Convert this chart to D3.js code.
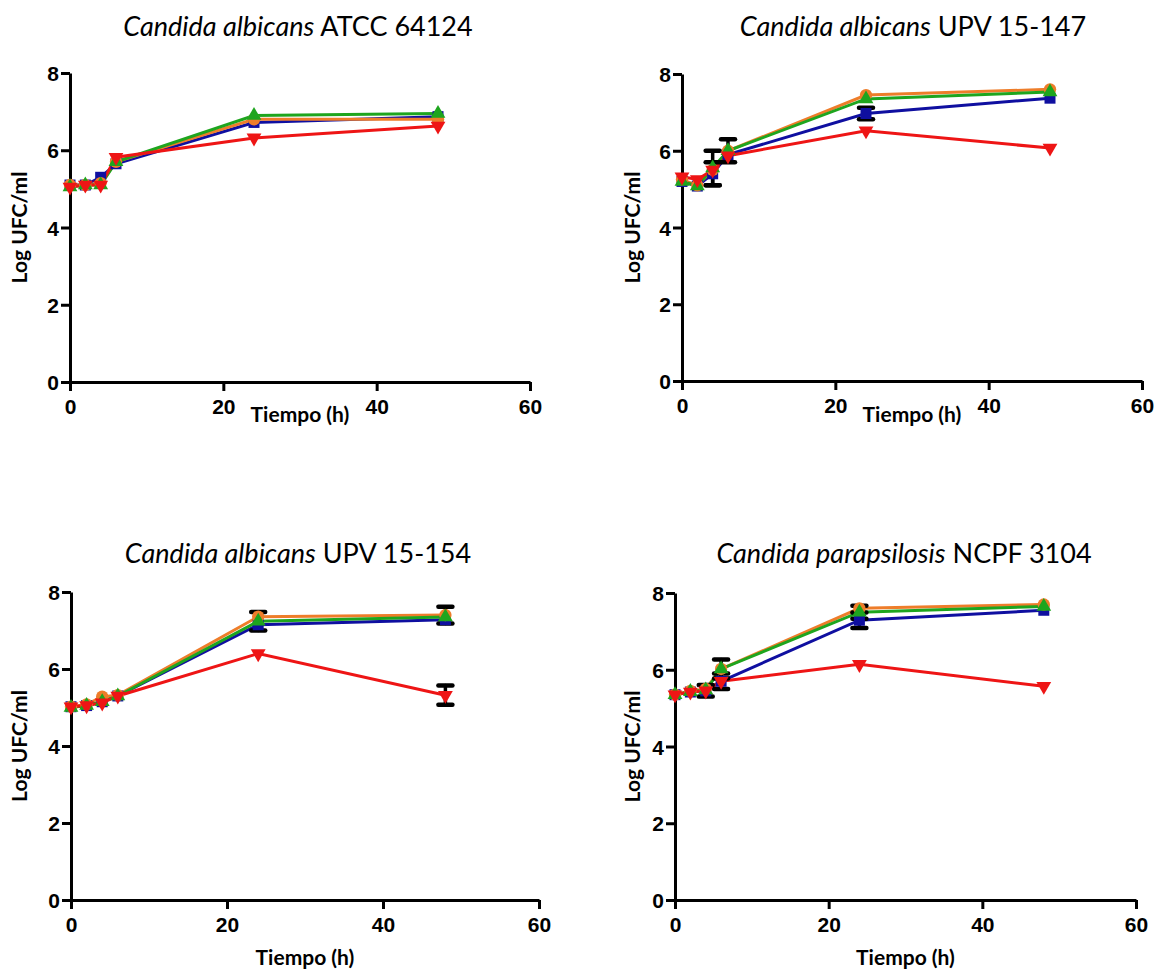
<!DOCTYPE html>
<html>
<head>
<meta charset="utf-8">
<script src="https://cdn.jsdelivr.net/npm/d3@7"></script>
<style>
  body { margin: 0; background: #fff; }
  .title { font-family: Lato, "Open Sans", sans-serif; font-size: 27px; fill: #000; }
  .axis-label { font-family: Lato, "Open Sans", sans-serif; font-weight: bold; font-size: 21px; fill: #000; }
</style>
</head>
<body>
<svg id="chart" width="1161" height="974"></svg>
<script>
// sampling times (h)
const times = [0, 2, 4, 6, 24, 48];
const xTicks = [0, 20, 40, 60];
const yTicks = [0, 2, 4, 6, 8];

const seriesKeys = ["blue", "orange", "green", "red"];
const seriesColors = ["#0f0fa0", "#ee7d2a", "#1ea51e", "#ee1515"];
const seriesShapes = ["square", "circle", "triangleUp", "triangleDown"];

const titleSpecies = ["Candida albicans", "Candida albicans", "Candida albicans", "Candida parapsilosis"];
const titleStrain = ["ATCC 64124", "UPV 15-147", "UPV 15-154", "NCPF 3104"];

// Log UFC/ml, one row per series (blue, orange, green, red)
const atcc64124 = [
  [5.1, 5.1, 5.3, 5.65, 6.72, 6.87],
  [5.1, 5.1, 5.15, 5.7, 6.8, 6.8],
  [5.05, 5.1, 5.1, 5.7, 6.9, 6.95],
  [5.05, 5.1, 5.1, 5.82, 6.32, 6.63]
];
const atcc64124Err = [
  [0, 0, 0, 0, 0, 0],
  [0, 0, 0, 0, 0, 0],
  [0, 0, 0, 0, 0, 0],
  [0, 0, 0, 0, 0, 0]
];

const upv15147 = [
  [5.2, 5.08, 5.4, 5.9, 6.97, 7.37],
  [5.25, 5.1, 5.5, 6.0, 7.45, 7.6],
  [5.2, 5.08, 5.55, 6.0, 7.35, 7.53],
  [5.32, 5.25, 5.5, 5.87, 6.52, 6.07]
];
const upv15147Err = [
  [0, 0, 0.3, 0, 0.15, 0],
  [0, 0, 0, 0, 0, 0],
  [0, 0, 0.45, 0.3, 0, 0],
  [0, 0, 0, 0, 0, 0]
];

const upv15154 = [
  [5.02, 5.05, 5.15, 5.3, 7.15, 7.28],
  [5.02, 5.08, 5.28, 5.32, 7.36, 7.4],
  [5.0, 5.05, 5.15, 5.3, 7.24, 7.35],
  [5.02, 5.05, 5.12, 5.3, 6.4, 5.32]
];
const upv15154Err = [
  [0, 0, 0, 0, 0, 0],
  [0, 0, 0, 0, 0, 0.22],
  [0, 0, 0, 0, 0.24, 0],
  [0, 0, 0, 0, 0, 0.25]
];

const ncpf3104 = [
  [5.35, 5.42, 5.45, 5.7, 7.29, 7.55],
  [5.35, 5.45, 5.5, 6.02, 7.6, 7.7],
  [5.35, 5.43, 5.47, 6.02, 7.5, 7.65],
  [5.35, 5.42, 5.45, 5.7, 6.14, 5.57]
];
const ncpf3104Err = [
  [0, 0, 0.15, 0.2, 0.2, 0],
  [0, 0, 0, 0, 0, 0],
  [0, 0, 0, 0.25, 0.17, 0],
  [0, 0, 0, 0, 0, 0]
];

const panelValues = [atcc64124, upv15147, upv15154, ncpf3104];
const panelErrors = [atcc64124Err, upv15147Err, upv15154Err, ncpf3104Err];

// panel frames in page pixels
const frames = [
  { x0: 70, x1: 530, yTop: 73, yBot: 382, titleX: 298, titleY: 36, ylabX: 20, xlabDy: 40 },
  { x0: 682, x1: 1142, yTop: 74, yBot: 381, titleX: 913, titleY: 36, ylabX: 633, xlabDy: 41 },
  { x0: 71, x1: 539, yTop: 592, yBot: 900, titleX: 298, titleY: 563, ylabX: 20, xlabDy: 65 },
  { x0: 675, x1: 1136, yTop: 593, yBot: 900, titleX: 904, titleY: 563, ylabX: 633, xlabDy: 65 }
];

const svg = d3.select("#chart");

function symbolFor(shape) {
  if (shape === "square") return d3.symbol().type(d3.symbolSquare).size(121)();
  if (shape === "circle") return d3.symbol().type(d3.symbolCircle).size(120)();
  return d3.symbol().type(d3.symbolTriangle).size(95)();
}

function drawPanel(i) {
  var f = frames[i];
  var xScale = d3.scaleLinear().domain([0, 60]).range([f.x0, f.x1]);
  var yScale = d3.scaleLinear().domain([0, 8]).range([f.yBot, f.yTop]);
  var g = svg.append("g");

  // title: italic species + regular strain
  var title = g.append("text").attr("class", "title")
    .attr("x", f.titleX).attr("y", f.titleY)
    .attr("text-anchor", "middle");
  title.append("tspan").style("font-style", "italic").text(titleSpecies[i]);
  title.append("tspan").text(" " + titleStrain[i]);

  var xAxis = d3.axisBottom(xScale).tickValues(xTicks).tickSize(9).tickSizeOuter(0).tickPadding(8);
  var yAxis = d3.axisLeft(yScale).tickValues(yTicks).tickSize(9).tickSizeOuter(0).tickPadding(2);

  var gx = g.append("g").attr("transform", "translate(0," + f.yBot + ")").call(xAxis);
  var gy = g.append("g").attr("transform", "translate(" + f.x0 + ",0)").call(yAxis);
  [gx, gy].forEach(function (ax) {
    ax.attr("font-family", null).attr("font-size", null);
    ax.select(".domain").attr("stroke", "#000").attr("stroke-width", 3);
    ax.selectAll(".tick line").attr("stroke", "#000").attr("stroke-width", 3);
    ax.selectAll(".tick text")
      .style("font-family", "'Liberation Sans', Arial, sans-serif")
      .style("font-weight", "bold")
      .style("font-size", "21px")
      .attr("fill", "#000");
  });
  gy.selectAll(".tick text").attr("dy", "0.36em");

  g.append("text").attr("class", "axis-label")
    .attr("x", (f.x0 + f.x1) / 2).attr("y", f.yBot + f.xlabDy)
    .attr("text-anchor", "middle").text("Tiempo (h)");

  g.append("text").attr("class", "axis-label")
    .attr("transform", "translate(" + (f.ylabX + 7) + "," + (f.yTop + f.yBot) / 2 + ") rotate(-90)")
    .attr("text-anchor", "middle").text("Log UFC/ml");

  var values = panelValues[i];
  var errors = panelErrors[i];
  var line = d3.line().x((d, j) => xScale(times[j])).y((d) => yScale(d));

  // lines
  seriesKeys.forEach(function (key, s) {
    g.append("path")
      .datum(values[s])
      .attr("fill", "none")
      .attr("stroke", seriesColors[s])
      .attr("stroke-width", 3)
      .attr("d", line);
  });

  // error bars
  seriesKeys.forEach(function (key, s) {
    var bars = times.map((t, j) => ({ t: t, v: values[s][j], e: errors[s][j] })).filter((d) => d.e > 0);
    var eb = g.append("g").attr("stroke", "#000").attr("stroke-width", 3.5).attr("stroke-linecap", "round");
    bars.forEach(function (d) {
      var cx = xScale(d.t);
      var yHi = yScale(d.v + d.e), yLo = yScale(d.v - d.e);
      eb.append("line").attr("x1", cx).attr("x2", cx).attr("y1", yHi).attr("y2", yLo);
      eb.append("line").attr("x1", cx - 7).attr("x2", cx + 7).attr("y1", yHi).attr("y2", yHi).attr("stroke-width", 4.5);
      eb.append("line").attr("x1", cx - 7).attr("x2", cx + 7).attr("y1", yLo).attr("y2", yLo).attr("stroke-width", 4.5);
    });
  });

  // markers
  seriesKeys.forEach(function (key, s) {
    g.append("g").selectAll("path")
      .data(values[s])
      .join("path")
      .attr("d", symbolFor(seriesShapes[s]))
      .attr("transform", function (d, j) {
        var tr = "translate(" + xScale(times[j]) + "," + yScale(d) + ")";
        if (seriesShapes[s] === "triangleDown") tr += " rotate(180)";
        return tr;
      })
      .attr("fill", seriesColors[s]);
  });
}

for (var i = 0; i < frames.length; i++) drawPanel(i);
</script>
</body>
</html>
